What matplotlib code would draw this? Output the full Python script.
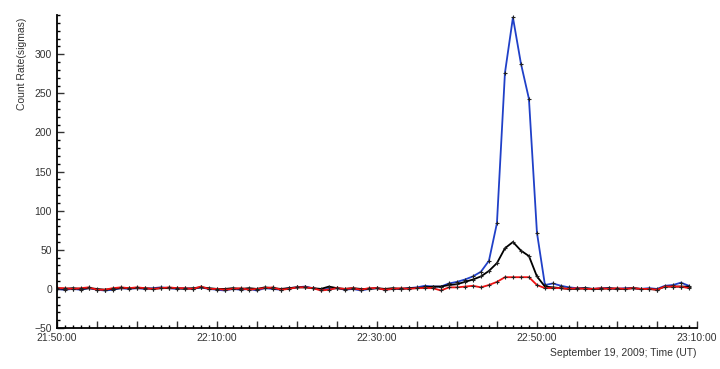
import matplotlib
matplotlib.use('Agg')
from matplotlib import pyplot as plt
from matplotlib.ticker import MultipleLocator, FuncFormatter

plt.rcParams['font.family'] = ['Liberation Sans', 'DejaVu Sans']

# minutes after 21:50:00 UT, one sample per minute
minutes = list(range(80))

blue = [0, -1, 0, -1, 1, -1, -2, -1, 1, 0, 1, 0, 1, 2, 1, 0, 1, 0, 2, 0,
        -1, -2, 0, -1, 0, -2, 1, 0, -1, 1, 2, 3, 1, -1, 0, 1, -1, 0, -2, 0,
        1, -1, 0, 0, 1, 2, 4, 3, 3, 7, 9, 12, 16, 22, 36, 84, 276, 347, 288, 243,
        72, 5, 7, 4, 2, 1, 1, 0, 1, 1, 0, 1, 1, 0, 1, 0, 4, 5, 8, 4]
black = [1, 0, 1, 0, 1, 0, -1, 0, 1, 1, 1, 1, 0, 1, 1, 1, 0, 1, 2, 1,
         0, 0, 1, 0, 1, 0, 2, 1, 0, 1, 2, 2, 1, 0, 3, 1, 0, 1, 0, 0,
         1, 0, 1, 0, 1, 1, 2, 3, 3, 5, 6, 9, 12, 16, 23, 33, 52, 60, 49, 42,
         16, 3, 2, 1, 0, 0, 1, 0, 0, 1, 0, 0, 1, 0, 0, -1, 3, 3, 3, 3]
red = [1, 1, 0, 1, 2, -1, -1, 1, 2, 1, 2, 1, 0, 1, 2, 1, 1, 0, 3, 0,
       0, -1, 0, 1, -1, 0, 1, 2, -1, 0, 2, 2, 1, -2, -1, 1, 0, 1, -1, 1,
       1, -1, 0, 1, 0, 1, 1, 1, -2, 2, 2, 3, 4, 2, 5, 9, 15, 15, 15, 15,
       5, 1, 1, 1, 0, 1, 0, 0, 1, 0, 1, 0, 1, 0, 0, -1, 3, 3, 3, 1]


def time_label(m, pos):
    total = 21 * 60 + 50 + int(round(m))
    if int(round(m)) % 20 != 0:
        return ''
    return '%02d:%02d:00' % (total // 60, total % 60)


fig = plt.figure(figsize=(7.2, 3.69), dpi=100)
ax = fig.add_axes([0.079, 0.111, 0.889, 0.848])

for vals, c in [(blue, '#2040c8'), (black, '#000000'), (red, '#ee1111')]:
    ax.plot(minutes, vals, c=c, lw=1.3, marker='+', ms=3,
            mec='#222222', mew=0.8)

ax.set_xlim(0, 80)
ax.set_ylim(-50, 350)
ax.xaxis.set_major_locator(MultipleLocator(5))
ax.xaxis.set_minor_locator(MultipleLocator(1))
ax.xaxis.set_major_formatter(FuncFormatter(time_label))
ax.yaxis.set_major_locator(MultipleLocator(50))
ax.yaxis.set_minor_locator(MultipleLocator(10))
ax.set_yticks([-50, 0, 50, 100, 150, 200, 250, 300])
ax.tick_params(axis='both', which='major', direction='in', length=5,
               labelsize=7.5, colors='#333333', width=1)
ax.tick_params(axis='both', which='minor', direction='in', length=2.5, width=1)

for s in ['top', 'right']:
    ax.spines[s].set_visible(False)
for s in ['left', 'bottom']:
    ax.spines[s].set_linewidth(1.3)

ax.set_ylabel('Count Rate(sigmas)', fontsize=7.5, color='#333333')
ax.yaxis.set_label_coords(-0.047, 0.845)
fig.text(0.968, 0.035, 'September 19, 2009; Time (UT)', ha='right',
         fontsize=7.5, color='#333333')

fig.savefig('out.png', dpi=100)
